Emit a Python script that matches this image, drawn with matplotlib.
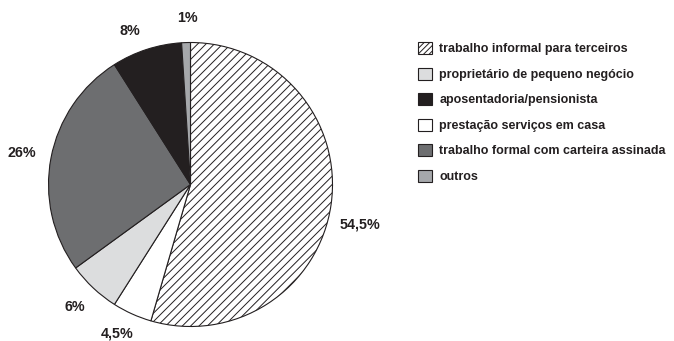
import numpy as np
import matplotlib
matplotlib.use("Agg")
import matplotlib.pyplot as plt
from matplotlib.patches import Patch

plt.rcParams['font.family'] = ['Liberation Sans', 'DejaVu Sans']
plt.rcParams['hatch.linewidth'] = 0.7

# slices, in drawing order (clockwise from the top)
categories = ['trabalho informal para terceiros',
              'prestação serviços em casa',
              'proprietário de pequeno negócio',
              'trabalho formal com carteira assinada',
              'aposentadoria/pensionista',
              'outros']
values = [54.5, 4.5, 6, 26, 8, 1]
value_labels = ['54,5%', '4,5%', '6%', '26%', '8%', '1%']
colors = ['white', 'white', '#dcddde', '#6d6e70', '#231f20', '#a6a8ab']
hatches = ['////', None, None, None, None, None]

# legend order
legend_order = [0, 2, 4, 1, 3, 5]

# label placement: radial distance and angular shift (degrees) from wedge middle
label_dist = [1.23, 1.17, 1.19, 1.21, 1.16, 1.17]
label_shift = [-5.3, -1.9, -0.1, 0.4, 3.5, -0.6]

W, H = 674, 341
fig = plt.figure(figsize=(W / 100, H / 100), dpi=100)
cx, cy, R = 190.5, 184.5, 142
ax = fig.add_axes([(cx - R) / W, (H - cy - R) / H, 2 * R / W, 2 * R / H])

wedges, _ = ax.pie(values, colors=colors, startangle=90, counterclock=False,
                   wedgeprops=dict(edgecolor='#231f20', linewidth=0.8))
for w, h in zip(wedges, hatches):
    if h:
        w.set_hatch(h)

for w, lab, d, s in zip(wedges, value_labels, label_dist, label_shift):
    ang = np.deg2rad((w.theta1 + w.theta2) / 2 + s)
    ax.text(d * np.cos(ang), d * np.sin(ang), lab, ha='center', va='center',
            fontsize=10.3, fontweight='bold', color='#231f20')

ax.set_xlim(-1, 1)
ax.set_ylim(-1, 1)
ax.set_aspect('equal')
ax.axis('off')

handles = []
for i in legend_order:
    handles.append(Patch(facecolor=colors[i], edgecolor='#231f20', linewidth=0.8,
                         hatch='//////' if hatches[i] else None,
                         label=categories[i]))

leg = fig.legend(handles=handles, loc='upper left',
                 bbox_to_anchor=(418 / W, 1 - 42 / H), frameon=False,
                 handlelength=1.1, handleheight=1.1,
                 handletextpad=0.6, labelspacing=0.98, borderpad=0, borderaxespad=0,
                 prop={'weight': 'bold', 'size': 9})
for t in leg.get_texts():
    t.set_color('#231f20')

fig.savefig('out.png', dpi=100)
